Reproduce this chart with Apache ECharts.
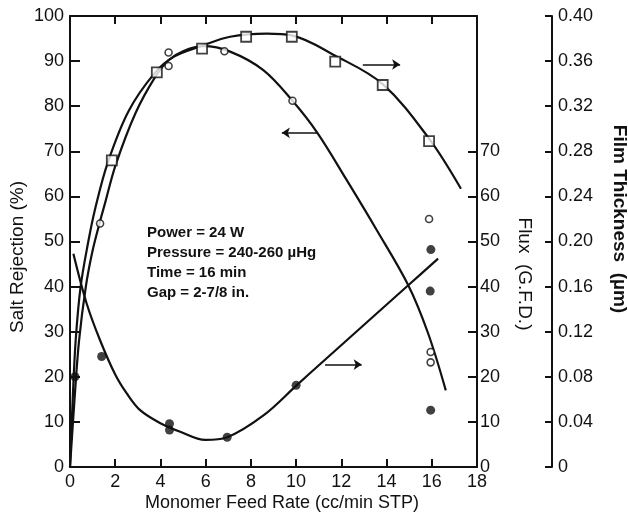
<!DOCTYPE html>
<html>
<head>
<meta charset="utf-8">
<script src="https://cdn.jsdelivr.net/npm/echarts@6/dist/echarts.min.js"></script>
<style>
html,body{margin:0;padding:0;background:#fff;}
#c{width:628px;height:513px;}
</style>
</head>
<body>
<div id="c"></div>
<script>
// ---- tick labels ----
const xTicks = [0,2,4,6,8,10,12,14,16,18];
const saltTicks = [0,10,20,30,40,50,60,70,80,90,100];
const fluxTicks = [0,10,20,30,40,50,60,70];
const thickTicks = [0,0.04,0.08,0.12,0.16,0.20,0.24,0.28,0.32,0.36,0.40];

// ---- measured points ----
// salt rejection (%) – open circles
const saltPts = [[1.33,54],[4.36,91.9],[4.36,88.9],[6.83,92.2],[9.84,81.2],[15.88,55],[15.95,25.5],[15.95,23.2]];
// flux (G.F.D.) – filled circles
const fluxPts = [[0.22,20],[1.4,24.5],[4.4,9.6],[4.4,8.2],[6.95,6.6],[10.0,18.1],[15.96,48.2],[15.93,39],[15.95,12.6]];
// film thickness (µm) – squares
const thickPts = [[1.85,0.272],[3.84,0.350],[5.84,0.371],[7.79,0.3816],[9.81,0.3816],[11.73,0.3596],[13.83,0.3388],[15.88,0.289]];

// ---- fitted curves ----
const saltCurve = [[0,0],[0.2,15],[0.4,28],[0.7,40],[1.0,48],[1.33,54.5],[1.55,58.5],[2.02,67],[2.9,78.5],[3.77,86.5],[4.36,90.2],[5.0,92.2],[5.9,93.3],[7.08,92.1],[8.55,88],[9.84,81.2],[10.94,74.1],[12.24,63.6],[13.57,52.5],[14.96,40.3],[15.84,29.6],[16.62,17]];
const thickCurve = [[0,0],[0.12,0.06],[0.25,0.112],[0.47,0.16],[0.81,0.2],[1.1,0.228],[1.67,0.27],[2.6,0.316],[3.77,0.35],[4.6,0.364],[5.84,0.3736],[7.08,0.3816],[8.7,0.3844],[9.81,0.3828],[11.73,0.3648],[13.83,0.3396],[15.88,0.2912],[17.29,0.2468]];
const fluxCurve = [[0.15,47.3],[0.74,36.2],[1.33,28.1],[2.0,20.5],[2.51,16.3],[3.1,12.6],[4.0,9.7],[4.875,7.8],[5.98,6.0],[6.95,6.6],[8.57,11.5],[10.02,18.1],[11.08,22.9],[14.96,40.3],[16.28,46.2]];

// ---- arrows (data coords) ----
const saltArrow = [[10.94,74.1],[9.37,74.1]];
const thickArrow = [[12.95,0.357],[14.6,0.357]];
const fluxArrow = [[11.28,22.7],[12.9,22.7]];

const INK = '#111';
const FONT = 'Liberation Sans';

function axisCommon(){
  return {
    axisLine:{show:true,onZero:false,lineStyle:{color:INK,width:2}},
    splitLine:{show:false},
  };
}

const chart = echarts.init(document.getElementById('c'), null, {renderer:'canvas'});

const lineStyle = {color:INK,width:2.2};
function arrowML(pair){
  return {
    silent:true, animation:false,
    symbol:['none','arrow'], symbolSize:8,
    lineStyle:{color:INK,width:1.5,type:'solid'},
    label:{show:false},
    data:[[{coord:pair[0]},{coord:pair[1]}]]
  };
}

chart.setOption({
  animation:false,
  backgroundColor:'#fff',
  grid:{left:70,top:16,right:151,bottom:46},
  xAxis:[
    Object.assign(axisCommon(),{
      type:'value',min:0,max:18,position:'bottom',
      axisTick:{show:true,inside:true,length:8,customValues:xTicks,lineStyle:{color:INK,width:2}},
      axisLabel:{customValues:xTicks,fontSize:18,margin:6,color:INK,fontFamily:FONT}
    }),
    Object.assign(axisCommon(),{
      type:'value',min:0,max:18,position:'top',
      axisTick:{show:true,inside:true,length:8,customValues:xTicks,lineStyle:{color:INK,width:2}},
      axisLabel:{show:false}
    })
  ],
  yAxis:[
    Object.assign(axisCommon(),{
      type:'value',min:0,max:100,position:'left',
      axisTick:{show:true,inside:true,length:10,customValues:saltTicks,lineStyle:{color:INK,width:2}},
      axisLabel:{customValues:saltTicks,fontSize:18,margin:6,color:INK,fontFamily:FONT}
    }),
    Object.assign(axisCommon(),{
      type:'value',min:0,max:100,position:'right',
      axisTick:{show:true,inside:true,length:9,customValues:fluxTicks,lineStyle:{color:INK,width:2}},
      axisLabel:{customValues:fluxTicks,fontSize:18,margin:3,color:INK,fontFamily:FONT}
    }),
    Object.assign(axisCommon(),{
      type:'value',min:0,max:0.4,position:'right',offset:75,
      axisTick:{show:true,inside:true,length:7,customValues:thickTicks,lineStyle:{color:INK,width:2}},
      axisLabel:{customValues:thickTicks,fontSize:18,margin:6,color:INK,fontFamily:FONT,
        formatter:v=> (Math.abs(v)<1e-9 ? '0' : (+v).toFixed(2))}
    })
  ],
  series:[
    {type:'line',name:'saltCurve',data:saltCurve,xAxisIndex:0,yAxisIndex:0,smooth:0.35,showSymbol:false,lineStyle,z:2,markLine:arrowML(saltArrow)},
    {type:'line',name:'thickCurve',data:thickCurve,xAxisIndex:0,yAxisIndex:2,smooth:0.35,showSymbol:false,lineStyle,z:2,markLine:arrowML(thickArrow)},
    {type:'line',name:'fluxCurve',data:fluxCurve,xAxisIndex:0,yAxisIndex:1,smooth:0.35,showSymbol:false,lineStyle,z:2,markLine:arrowML(fluxArrow)},
    {type:'scatter',name:'salt',data:saltPts,xAxisIndex:0,yAxisIndex:0,symbol:'circle',symbolSize:7,
      itemStyle:{color:'#fff',borderColor:INK,borderWidth:1.6},z:5},
    {type:'scatter',name:'flux',data:fluxPts,xAxisIndex:0,yAxisIndex:1,symbol:'circle',symbolSize:9,
      itemStyle:{color:INK},z:5},
    {type:'scatter',name:'thick',data:thickPts,xAxisIndex:0,yAxisIndex:2,symbol:'rect',symbolSize:10,
      itemStyle:{color:'#fff',borderColor:INK,borderWidth:1.8},z:5}
  ],
  graphic:[
    {type:'text',x:18,y:257,rotation:Math.PI/2,style:{text:'Salt Rejection (%)',font:'19px "Liberation Sans"',fill:INK,align:'center',verticalAlign:'middle'}},
    {type:'text',x:524,y:274,rotation:-Math.PI/2,style:{text:'Flux  (G.F.D.)',font:'19px "Liberation Sans"',fill:INK,align:'center',verticalAlign:'middle'}},
    {type:'text',x:619,y:219,rotation:-Math.PI/2,style:{text:'Film Thickness  (µm)',font:'bold 19px "Liberation Sans"',fill:INK,align:'center',verticalAlign:'middle'}},
    {type:'text',x:282,y:503,style:{text:'Monomer Feed Rate (cc/min STP)',font:'18px "Liberation Sans"',fill:INK,align:'center',verticalAlign:'middle'}},
    {type:'text',x:147,y:233,style:{text:'Power = 24 W',font:'bold 15px "Liberation Sans"',fill:INK,verticalAlign:'middle'}},
    {type:'text',x:147,y:253,style:{text:'Pressure = 240-260 µHg',font:'bold 15px "Liberation Sans"',fill:INK,verticalAlign:'middle'}},
    {type:'text',x:147,y:273,style:{text:'Time = 16 min',font:'bold 15px "Liberation Sans"',fill:INK,verticalAlign:'middle'}},
    {type:'text',x:147,y:293,style:{text:'Gap = 2-7/8 in.',font:'bold 15px "Liberation Sans"',fill:INK,verticalAlign:'middle'}}
  ]
});
</script>
</body>
</html>
